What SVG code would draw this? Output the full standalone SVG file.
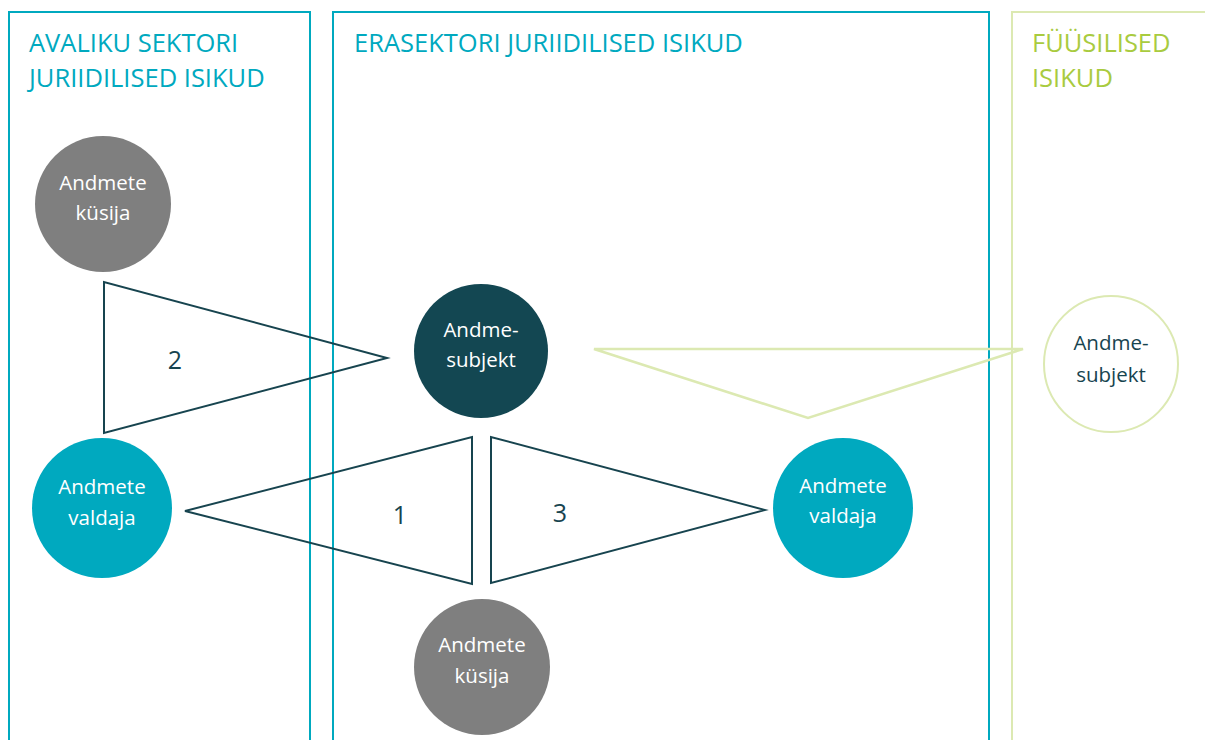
<svg xmlns="http://www.w3.org/2000/svg" width="1205" height="740" viewBox="0 0 1205 740">
  <style>
    .panel { fill: none; stroke-width: 2; }
    .teal-panel { stroke: #00A9BF; }
    .green-panel { stroke: #DCE9B2; }
    .head { font-family: "Open Sans", "Noto Sans", sans-serif; font-size: 25.5px; }
    .head-teal { fill: #00A9BF; }
    .head-green { fill: #A9CB3F; }
    .lbl { font-family: "Open Sans", "Noto Sans", sans-serif; font-size: 20.5px; text-anchor: middle; }
    .lbl-w { fill: #FFFFFF; }
    .lbl-d { fill: #17444F; }
    .num { font-family: "Open Sans", "Noto Sans", sans-serif; font-size: 25px; fill: #17444F; text-anchor: middle; }
    .tri { fill: none; stroke: #17444F; stroke-width: 2; stroke-linejoin: miter; }
    .tri-green { fill: none; stroke: #DCE9B2; stroke-width: 2.5; }
  </style>

  <rect width="1205" height="740" fill="#FFFFFF"/>

  <!-- swimlane panels -->
  <g id="panels">
    <rect class="panel teal-panel" x="9" y="12" width="301" height="740"/>
    <rect class="panel teal-panel" x="333" y="12" width="656" height="740"/>
    <rect class="panel green-panel" x="1012" y="12" width="210" height="740"/>
  </g>

  <g id="headers">
    <text class="head head-teal" x="29" y="52">AVALIKU SEKTORI</text>
    <text class="head head-teal" x="29" y="87">JURIIDILISED ISIKUD</text>
    <text class="head head-teal" x="354" y="52">ERASEKTORI JURIIDILISED ISIKUD</text>
    <text class="head head-green" x="1032" y="52">FÜÜSILISED</text>
    <text class="head head-green" x="1032" y="87">ISIKUD</text>
  </g>

  <!-- connectors: numbered flow triangles -->
  <g id="connectors">
    <polygon class="tri" points="104,282 104,433 387,358"/>
    <polygon class="tri" points="185,511 472,437 472,584"/>
    <polygon class="tri" points="491,437 491,583 765,510"/>
    <polygon class="tri-green" points="594,349 1023,349 808,418"/>
    <text class="num" x="175" y="369">2</text>
    <text class="num" x="400" y="524">1</text>
    <text class="num" x="560" y="522">3</text>
  </g>

  <g id="kusija-public">
    <circle cx="103" cy="204" r="68" fill="#7F7F7F"/>
    <text class="lbl lbl-w" x="103" y="190">Andmete</text>
    <text class="lbl lbl-w" x="103" y="220">küsija</text>
  </g>

  <g id="valdaja-public">
    <circle cx="102" cy="508" r="70" fill="#00A9BF"/>
    <text class="lbl lbl-w" x="102" y="494">Andmete</text>
    <text class="lbl lbl-w" x="102" y="525">valdaja</text>
  </g>

  <g id="subjekt-private">
    <circle cx="481" cy="351" r="67" fill="#134752"/>
    <text class="lbl lbl-w" x="481" y="337">Andme-</text>
    <text class="lbl lbl-w" x="481" y="367">subjekt</text>
  </g>

  <g id="valdaja-private">
    <circle cx="843" cy="508" r="70" fill="#00A9BF"/>
    <text class="lbl lbl-w" x="843" y="493">Andmete</text>
    <text class="lbl lbl-w" x="843" y="523">valdaja</text>
  </g>

  <g id="kusija-private">
    <circle cx="482" cy="667" r="68" fill="#7F7F7F"/>
    <text class="lbl lbl-w" x="482" y="652">Andmete</text>
    <text class="lbl lbl-w" x="482" y="683">küsija</text>
  </g>

  <g id="subjekt-natural">
    <ellipse cx="1111" cy="364" rx="67" ry="68" fill="#FFFFFF" stroke="#DCE9B2" stroke-width="2"/>
    <text class="lbl lbl-d" x="1111" y="350">Andme-</text>
    <text class="lbl lbl-d" x="1111" y="382">subjekt</text>
  </g>
</svg>
